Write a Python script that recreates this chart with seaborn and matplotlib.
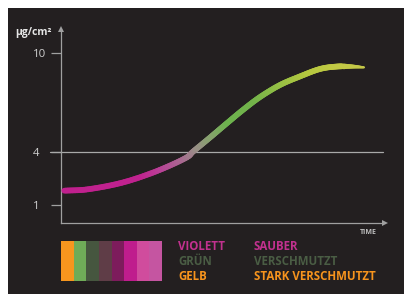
import numpy as np
import pandas as pd
import matplotlib
matplotlib.use("Agg")
import matplotlib.pyplot as plt
from matplotlib.collections import LineCollection
from matplotlib.colors import ListedColormap, LinearSegmentedColormap
from matplotlib.patches import Rectangle
import seaborn as sns

# ---------------- data ----------------
time = [1.0, 8.4, 18.9, 29.2, 38.5, 41.1, 46.3, 51.5, 56.5, 61.8, 68.0, 74.2, 80.4, 85.7, 90.4, 94.1]
value = [1.81, 1.89, 2.26, 2.88, 3.64, 4.04, 4.88, 5.74, 6.55, 7.33, 8.06, 8.58, 9.03, 9.18, 9.18, 9.13]
y_ticks = [1, 4, 10]
threshold = 4
y_label = "µg/cm²"
x_label = "TIME"
stripe_colors = ["#f7961e", "#6fac58", "#46563f", "#5f3d47", "#7d1c5c", "#bf1d8d", "#d04c9d", "#c555a1"]
legend_left = ["VIOLETT", "GRÜN", "GELB"]
legend_right = ["SAUBER", "VERSCHMUTZT", "STARK VERSCHMUTZT"]
legend_colors = ["#c2318f", "#4a5d44", "#f7941d"]

# gradient of the curve (position along time axis, colour)
grad_pos = [0, 25, 31, 38, 42, 47, 52, 60, 68, 77, 86, 100]
grad_col = ["#c0208e", "#c0228f", "#ba3f97", "#a86a90", "#9a8c88", "#86a46c", "#6db24e",
            "#72b24a", "#94bf45", "#b5c73f", "#c2c944", "#c6c64c"]

# ---------------- figure ----------------
W, H = 404, 294
sns.set_theme(style="dark")
plt.rcParams["font.family"] = ["Open Sans", "DejaVu Sans"]
fig = plt.figure(figsize=(W / 100, H / 100), dpi=100)
fig.patch.set_facecolor("white")
fig.patches.append(Rectangle((8 / W, 0), 1 - 8 / W, (H - 8) / H, transform=fig.transFigure,
                             facecolor="#231f20", edgecolor="none", zorder=-10))

def fx(px):
    return px / W

def fy(py):
    return 1 - py / H

ax = fig.add_axes([fx(61), fy(223), (383 - 61) / W, (223 - 29) / H])
ax.set_facecolor("none")

# piecewise linear y scale (as in the original graphic)
def fwd(v):
    v = np.asarray(v, dtype=float)
    return np.where(v <= 4, (v - 4) * 17.667, (v - 4) * 16.5)

def inv(p):
    p = np.asarray(p, dtype=float)
    return np.where(p <= 0, 4 + p / 17.667, 4 + p / 16.5)

ax.set_yscale("function", functions=(fwd, inv))
ax.set_xlim(0, 100)
ax.set_ylim(4 - (223 - 152) / 17.667, 4 + (152 - 29) / 16.5)

# threshold line via seaborn
ref = pd.DataFrame({"t": [-3.4, 100], "v": [threshold, threshold]})
sns.lineplot(data=ref, x="t", y="v", ax=ax, color="#a9a9a9", linewidth=0.9, clip_on=False, zorder=2)

# smooth rendering of the curve through the read points (Catmull-Rom in screen-like units)
t = np.asarray(time)
p = fwd(np.asarray(value)) / 16.5 * (100 / 322) * 3.22  # comparable units to time
P = np.column_stack([t, p])
Pe = np.vstack([2 * P[0] - P[1], P, 2 * P[-1] - P[-2]])
curve = []
for i in range(1, len(Pe) - 2):
    p0, p1, p2, p3 = Pe[i - 1], Pe[i], Pe[i + 1], Pe[i + 2]
    for s in np.linspace(0, 1, 14, endpoint=False):
        s2, s3 = s * s, s * s * s
        curve.append(0.5 * ((2 * p1) + (-p0 + p2) * s + (2 * p0 - 5 * p1 + 4 * p2 - p3) * s2
                            + (-p0 + 3 * p1 - 3 * p2 + p3) * s3))
curve.append(P[-1])
curve = np.array(curve)
ct = curve[:, 0]
cv = inv(curve[:, 1] * 16.5 / ((100 / 322) * 3.22))
pts = np.column_stack([ct, cv]).reshape(-1, 1, 2)
segs = np.concatenate([pts[:-1], pts[1:]], axis=1)
cmap = LinearSegmentedColormap.from_list("g", list(zip(np.array(grad_pos) / 100, grad_col)))
mids = (ct[:-1] + ct[1:]) / 2
lws = np.where(mids < 87, 4.1, 4.1 - (mids - 87) / (t[-1] - 87) * 2.6)
lc = LineCollection(segs, colors=cmap(mids / 100), linewidths=lws, capstyle="round", zorder=3)
ax.add_collection(lc)

# axes styling
for s in ["top", "right"]:
    ax.spines[s].set_visible(False)
for s in ["left", "bottom"]:
    ax.spines[s].set_color("#a0a0a0")
    ax.spines[s].set_linewidth(0.9)
ax.set_xticks([])
ax.set_yticks(y_ticks)
ax.set_yticklabels([str(k) for k in y_ticks])
ax.tick_params(axis="y", length=7.2, width=0.9, color="#a0a0a0", direction="out",
               pad=13.0, labelsize=8.2, labelcolor="#cfcfcf", left=True)
for lab in ax.get_yticklabels():
    lab.set_horizontalalignment("left")
ax.set_xlabel("")
ax.set_ylabel("")
ax.grid(False)
ax.plot([0], [1], marker="^", markersize=4.5, color="#a0a0a0", transform=ax.transAxes,
        clip_on=False, markeredgewidth=0)
ax.plot([1.005], [0], marker=">", markersize=4.5, color="#a0a0a0", transform=ax.transAxes,
        clip_on=False, markeredgewidth=0)

fig.text(fx(15), fy(32), y_label, ha="left", va="center", fontsize=7.5, fontweight="bold",
         color="#e6e6e6")
fig.text(fx(377), fy(232), x_label, ha="right", va="center", fontsize=5, fontweight="bold",
         color="#bdbdbd")

# colour stripes via seaborn heatmap
lax = fig.add_axes([fx(61), fy(280.5), (162 - 61) / W, (280.5 - 241) / H])
sns.heatmap(np.arange(len(stripe_colors)).reshape(1, -1), cmap=ListedColormap(stripe_colors),
            cbar=False, xticklabels=False, yticklabels=False, ax=lax, linewidths=0)

rows_y = [246.7, 261.7, 276.7]
for txt, col, yy in zip(legend_left, legend_colors, rows_y):
    fig.text(fx(178.3), fy(yy), txt, ha="left", va="center", fontsize=8.3, fontweight="bold", color=col)
for txt, col, yy in zip(legend_right, legend_colors, rows_y):
    fig.text(fx(254), fy(yy), txt, ha="left", va="center", fontsize=8.3, fontweight="bold", color=col)

fig.savefig("out.png", dpi=100, facecolor=fig.get_facecolor())
